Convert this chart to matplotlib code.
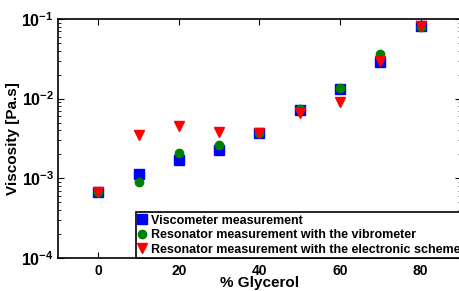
import matplotlib
matplotlib.use("Agg")
import matplotlib.pyplot as plt
import numpy as np
from matplotlib.ticker import FuncFormatter

plt.rcParams["font.family"] = ["Liberation Sans", "DejaVu Sans"]
plt.rcParams["font.weight"] = "bold"
plt.rcParams["mathtext.fontset"] = "custom"
plt.rcParams["mathtext.rm"] = "Liberation Sans"
plt.rcParams["mathtext.bf"] = "Liberation Sans:bold"

glycerol = [0, 10, 20, 30, 40, 50, 60, 70, 80]
viscometer = [6.8e-4, 1.15e-3, 1.69e-3, 2.3e-3, 3.75e-3, 7.3e-3, 1.32e-2, 2.9e-2, 8.2e-2]
vibrometer = [6.8e-4, 9.1e-4, 2.09e-3, 2.6e-3, 3.7e-3, 7.4e-3, 1.36e-2, 3.6e-2, 7.9e-2]
electronic = [6.7e-4, 3.55e-3, 4.5e-3, 3.8e-3, 3.7e-3, 6.6e-3, 9.2e-3, 3.0e-2, 8.2e-2]

labels = ["Viscometer measurement",
          "Resonator measurement with the vibrometer",
          "Resonator measurement with the electronic scheme"]

fig = plt.figure(figsize=(4.6, 2.91), dpi=100)
ax = fig.add_axes([0.126, 0.113, 0.876, 0.822])

ax.plot(glycerol, viscometer, "s", color="#0000ff", markersize=6.5, label=labels[0])
ax.plot(glycerol, vibrometer, "o", color="#007f00", markersize=6, label=labels[1])
ax.plot(glycerol, electronic, "v", color="#ff0000", markersize=6.5, label=labels[2])

ax.set_yscale("log")
ax.set_xlim(-10, 90)
ax.set_ylim(1e-4, 1e-1)
ax.set_xticks([0, 20, 40, 60, 80])
ax.set_yticks([1e-4, 1e-3, 1e-2, 1e-1])
ax.yaxis.set_major_formatter(
    FuncFormatter(lambda v, p: r"$\mathbf{10^{%d}}$" % round(np.log10(v))))
ax.tick_params(which="both", direction="in", top=True, right=True)
ax.tick_params(axis="x", labelsize=10, pad=4)
ax.tick_params(axis="y", labelsize=11.5, pad=3)
ax.tick_params(which="major", length=4)
ax.tick_params(which="minor", length=2)
for s in ax.spines.values():
    s.set_linewidth(1.2)

ax.set_xlabel("% Glycerol", fontsize=11, fontweight="bold", labelpad=-1)
ax.set_ylabel("Viscosity [Pa.s]", fontsize=11, fontweight="bold", labelpad=1)

leg = ax.legend(loc="lower left", bbox_to_anchor=(0.194, 0.0), fontsize=9,
                handlelength=0.6, handletextpad=0.4, borderpad=0.2,
                labelspacing=0.2, fancybox=False, framealpha=1,
                borderaxespad=0)
leg.get_frame().set_edgecolor("black")
leg.get_frame().set_linewidth(1.2)

fig.savefig("out.png", dpi=100)
